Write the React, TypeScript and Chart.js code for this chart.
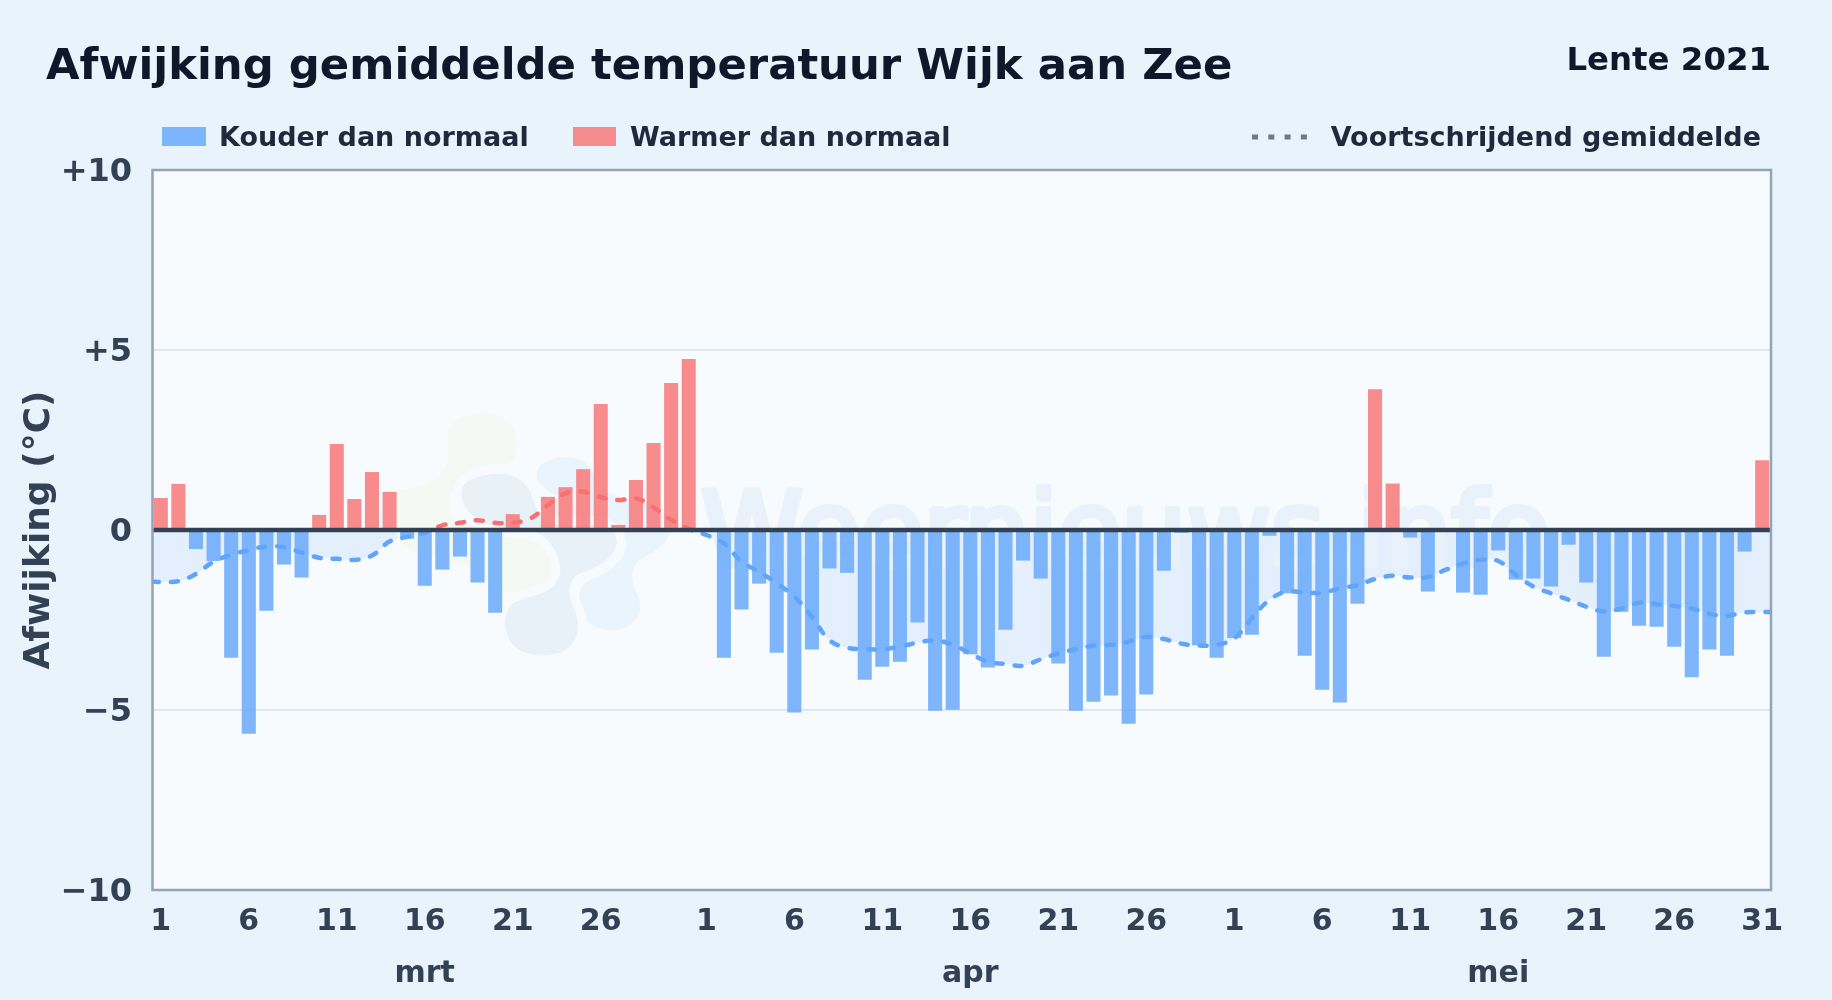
import React, { useEffect, useRef } from "react";
import { Chart, registerables } from "chart.js";

Chart.register(...registerables);

const titleText = "Afwijking gemiddelde temperatuur Wijk aan Zee";
const seasonText = "Lente 2021";
const yAxisTitle = "Afwijking (°C)";
const legendCold = "Kouder dan normaal";
const legendWarm = "Warmer dan normaal";
const legendAvg = "Voortschrijdend gemiddelde";
const watermarkText = "Weernieuws.info";

const monthNames = ["mrt", "apr", "mei"];
const monthLengths = [31, 30, 31];

const deviationMar = [0.89, 1.28, -0.53, -0.86, -3.55, -5.66, -2.24, -0.96, -1.32, 0.42, 2.39, 0.86, 1.61, 1.06, -0.24, -1.55, -1.1, -0.74, -1.46, -2.3, 0.44, 0, 0.92, 1.19, 1.69, 3.5, 0.14, 1.39, 2.42, 4.08, 4.75];
const deviationApr = [0, -3.55, -2.21, -1.49, -3.41, -5.07, -3.32, -1.07, -1.19, -4.16, -3.8, -3.66, -2.57, -5.02, -4.99, -3.45, -3.82, -2.77, -0.85, -1.35, -3.71, -5.02, -4.77, -4.6, -5.38, -4.57, -1.13, -0.08, -3.2, -3.55];
const deviationMay = [-3.0, -2.91, -0.16, -1.76, -3.49, -4.44, -4.79, -2.05, 3.91, 1.29, -0.21, -1.71, 0, -1.74, -1.8, -0.57, -1.38, -1.35, -1.57, -0.41, -1.46, -3.52, -2.27, -2.66, -2.69, -3.24, -4.09, -3.32, -3.49, -0.6, 1.94];

const averageMar = [-1.44, -1.42, -1.22, -0.88, -0.69, -0.56, -0.46, -0.48, -0.63, -0.77, -0.8, -0.83, -0.71, -0.32, -0.19, -0.07, 0.13, 0.2, 0.27, 0.2, 0.2, 0.32, 0.69, 1.02, 1.06, 0.91, 0.83, 0.88, 0.63, 0.28, 0.03];
const averageApr = [-0.14, -0.37, -0.88, -1.16, -1.48, -1.85, -2.41, -3.06, -3.27, -3.31, -3.31, -3.24, -3.13, -3.07, -3.19, -3.43, -3.66, -3.72, -3.77, -3.59, -3.43, -3.31, -3.21, -3.19, -3.1, -2.97, -3.03, -3.16, -3.21, -3.19];
const averageMay = [-3.01, -2.45, -1.94, -1.71, -1.74, -1.74, -1.62, -1.53, -1.36, -1.27, -1.32, -1.31, -1.11, -0.93, -0.83, -0.86, -1.25, -1.57, -1.76, -1.94, -2.13, -2.26, -2.18, -2.02, -2.06, -2.11, -2.18, -2.33, -2.38, -2.29, -2.28];

const yTickValues = [-10, -5, 0, 5, 10];
const yTickTexts = ["−10", "−5", "0", "+5", "+10"];

const FONT = '"DejaVu Sans"';
const BLUE = "rgba(96,165,250,0.8)";
const RED = "rgba(248,113,113,0.8)";
const PAGE_BG = "#e8f3fc";
const PLOT_BG = "#f7fbfe";

const allDeviation = [...deviationMar, ...deviationApr, ...deviationMay];
const allAverage = [...averageMar, ...averageApr, ...averageMay];
const coldValues = allDeviation.map((v) => (v < 0 ? v : null));
const warmValues = allDeviation.map((v) => (v > 0 ? v : null));

const dayLabels: string[] = [];
const tickTexts: (string | string[])[] = [];
monthLengths.forEach((len, m) => {
  for (let d = 1; d <= len; d++) {
    dayLabels.push(`${monthNames[m]} ${d}`);
    const showDay = (d - 1) % 5 === 0 && d < 31;
    const last = m === 2 && d === 31;
    if (d === 16) tickTexts.push(["16", monthNames[m]]);
    else tickTexts.push(showDay || last ? String(d) : "");
  }
});

// the average runs on to the edges of the plot: half a day beyond the first and last day
const averagePoints = [
  { x: -0.5, y: allAverage[0] },
  ...allAverage.map((y, i) => ({ x: i, y })),
  { x: allDeviation.length - 0.5, y: allAverage[allAverage.length - 1] },
];

// watermark logo outlines (decoration), bezier segments in a 3x grid around (380,400)
const logoGreen = [[205, 110], [205, 50, 270, 40, 320, 40], [380, 40, 415, 90, 412, 140], [410, 190, 370, 205, 320, 210], [250, 220, 220, 250, 208, 300], [200, 350, 230, 400, 370, 410], [440, 400, 520, 430, 520, 490], [520, 550, 470, 580, 420, 580], [330, 580, 300, 520, 260, 500], [170, 470, 60, 470, 50, 400], [45, 350, 45, 310, 50, 270], [120, 270, 190, 240, 205, 180]];
const logoLight = [[470, 230], [470, 190, 510, 172, 560, 172], [610, 172, 640, 200, 650, 250], [680, 300, 870, 310, 870, 390], [865, 440, 810, 460, 780, 480], [750, 500, 750, 540, 770, 580], [790, 620, 780, 660, 740, 680], [700, 700, 640, 690, 610, 650], [585, 620, 590, 570, 620, 545], [680, 520, 735, 490, 740, 430], [720, 340, 480, 300, 470, 230]];
const logoGrey = [[245, 280], [245, 235, 310, 222, 360, 222], [420, 222, 450, 260, 460, 300], [480, 370, 530, 385, 620, 375], [680, 370, 715, 400, 710, 430], [700, 480, 640, 510, 600, 520], [565, 535, 560, 580, 580, 620], [600, 670, 600, 700, 570, 740], [540, 770, 440, 780, 400, 735], [370, 700, 365, 640, 400, 610], [430, 590, 480, 590, 520, 560], [550, 530, 550, 480, 510, 430], [480, 390, 440, 390, 380, 385], [310, 380, 245, 340, 245, 280]];

function blob(ctx: CanvasRenderingContext2D, pts: number[][]) {
  const mx = (v: number) => 380 + v / 3;
  const my = (v: number) => 400 + v / 3;
  ctx.beginPath();
  ctx.moveTo(mx(pts[0][0]), my(pts[0][1]));
  for (let i = 1; i < pts.length; i++) {
    const p = pts[i];
    ctx.bezierCurveTo(mx(p[0]), my(p[1]), mx(p[2]), my(p[3]), mx(p[4]), my(p[5]));
  }
  ctx.closePath();
}

const backgroundPlugin = {
  id: "backdrop",
  beforeDatasetsDraw(chart: any) {
    const { ctx } = chart;
    ctx.save();
    ctx.fillStyle = "#f4f9f3";
    blob(ctx, logoGreen);
    ctx.fill();
    ctx.fillStyle = "#e9f4fd";
    blob(ctx, logoLight);
    ctx.fill();
    ctx.fillStyle = "#e8f0f8";
    ctx.strokeStyle = PLOT_BG;
    ctx.lineWidth = 18;
    ctx.lineJoin = "round";
    blob(ctx, logoGrey);
    ctx.stroke();
    ctx.fill();
    // watermark text
    ctx.font = `103px ${FONT}`;
    ctx.textAlign = "left";
    ctx.textBaseline = "alphabetic";
    ctx.fillStyle = "#e9f2fa";
    ctx.strokeStyle = "#e9f2fa";
    ctx.lineWidth = 6;
    ctx.fillText(watermarkText, 701, 566);
    ctx.strokeText(watermarkText, 701, 566);
    ctx.restore();
  },
};

const framePlugin = {
  id: "frame",
  beforeDraw(chart: any) {
    const { ctx, chartArea: a } = chart;
    ctx.save();
    ctx.fillStyle = PLOT_BG;
    ctx.fillRect(a.left, a.top, a.right - a.left, a.bottom - a.top);
    ctx.restore();
  },
  afterDatasetsDraw(chart: any) {
    const { ctx, chartArea: a, scales } = chart;
    ctx.save();
    const y0 = scales.y.getPixelForValue(0);
    ctx.strokeStyle = "#334155";
    ctx.lineWidth = 4.5;
    ctx.beginPath();
    ctx.moveTo(a.left, y0);
    ctx.lineTo(a.right, y0);
    ctx.stroke();
    ctx.strokeStyle = "#94a3b8";
    ctx.lineWidth = 2.5;
    ctx.strokeRect(a.left + 0.5, a.top, a.right - a.left - 0.5, a.bottom - a.top);
    ctx.restore();
  },
  afterDraw(chart: any) {
    const { ctx } = chart;
    ctx.save();
    ctx.textBaseline = "alphabetic";
    ctx.textAlign = "left";
    ctx.fillStyle = "#0f172a";
    ctx.font = `bold 43.35px ${FONT}`;
    ctx.fillText(titleText, 46, 79);
    ctx.textAlign = "right";
    ctx.font = `bold 32.4px ${FONT}`;
    ctx.fillText(seasonText, 1771, 70);

    ctx.textAlign = "left";
    ctx.font = `bold 27px ${FONT}`;
    ctx.fillStyle = BLUE;
    ctx.fillRect(162, 127, 44, 19);
    ctx.fillStyle = RED;
    ctx.fillRect(573, 127, 43, 19);
    ctx.fillStyle = "#1e293b";
    ctx.fillText(legendCold, 219, 146);
    ctx.fillText(legendWarm, 630, 146);
    ctx.textAlign = "right";
    ctx.fillText(legendAvg, 1761, 146);

    ctx.strokeStyle = "#6b7a8f";
    ctx.lineWidth = 5;
    ctx.setLineDash([6, 10.3]);
    ctx.beginPath();
    ctx.moveTo(1252, 137);
    ctx.lineTo(1307, 137);
    ctx.stroke();
    ctx.restore();
  },
};

export default function App() {
  const ref = useRef<HTMLCanvasElement | null>(null);

  useEffect(() => {
    document.body.style.margin = "0";
    document.body.style.background = PAGE_BG;
    const chart = new Chart(ref.current as HTMLCanvasElement, {
      type: "bar",
      plugins: [backgroundPlugin, framePlugin],
      data: {
        labels: dayLabels,
        datasets: [
          {
            type: "line",
            label: legendAvg,
            xAxisID: "xLine",
            data: averagePoints,
            order: 0,
            tension: 0.4,
            pointRadius: 0,
            borderWidth: 4.5,
            borderDash: [7, 12],
            borderCapStyle: "round",
            borderColor: (c: any) => {
              const { chart: ch } = c;
              if (!ch.chartArea) return "#60a5fa";
              const a = ch.chartArea;
              const g = ch.ctx.createLinearGradient(0, a.top, 0, a.bottom);
              const f = (ch.scales.y.getPixelForValue(0) - a.top) / (a.bottom - a.top);
              g.addColorStop(0, "#f87171");
              g.addColorStop(f, "#f87171");
              g.addColorStop(f, "#60a5fa");
              g.addColorStop(1, "#60a5fa");
              return g;
            },
            fill: {
              target: { value: 0 },
              above: "rgba(248,113,113,0.08)",
              below: "rgba(96,165,250,0.13)",
            },
          } as any,
          {
            type: "bar",
            label: legendCold,
            data: coldValues,
            order: 1,
            backgroundColor: BLUE,
            grouped: false,
            barPercentage: 0.8,
            categoryPercentage: 1,
          } as any,
          {
            type: "bar",
            label: legendWarm,
            data: warmValues,
            order: 1,
            backgroundColor: RED,
            grouped: false,
            barPercentage: 0.8,
            categoryPercentage: 1,
          } as any,
        ],
      },
      options: {
        responsive: false,
        animation: false,
        events: [],
        layout: { autoPadding: false, padding: { top: 170, right: 61, bottom: 0, left: 0 } },
        plugins: {
          legend: { display: false },
          title: { display: false },
          tooltip: { enabled: false },
          filler: { drawTime: "beforeDatasetsDraw" },
        } as any,
        scales: {
          x: {
            type: "category",
            offset: true,
            grid: { display: false, drawTicks: false },
            border: { display: false },
            afterFit: (s: any) => {
              s.height = 110;
            },
            ticks: {
              autoSkip: false,
              maxRotation: 0,
              minRotation: 0,
              padding: 6,
              color: "#334155",
              font: { family: FONT, weight: "bold", size: 30, lineHeight: 52 / 30 },
              callback: (_: any, i: number) => tickTexts[i],
            },
          },
          xLine: {
            type: "linear",
            display: false,
            offset: false,
            min: -0.5,
            max: allDeviation.length - 0.5,
          },
          y: {
            min: -10,
            max: 10,
            afterFit: (s: any) => {
              s.width = 152;
            },
            afterBuildTicks: (s: any) => {
              s.ticks = yTickValues.map((value) => ({ value }));
            },
            grid: {
              drawTicks: false,
              color: "#e0e7ec",
              lineWidth: 2,
            },
            border: { display: false },
            title: {
              display: true,
              text: yAxisTitle,
              color: "#334155",
              padding: { top: 18, bottom: 0 },
              font: { family: FONT, weight: "bold", size: 36 },
            },
            ticks: {
              padding: 20,
              labelOffset: 3,
              color: "#334155",
              font: { family: FONT, weight: "bold", size: 32 },
              callback: (v: any) => yTickTexts[yTickValues.indexOf(Number(v))],
            },
          },
        },
      },
    } as any);
    return () => chart.destroy();
  }, []);

  return (
    <div style={{ width: 1832, height: 1000, background: PAGE_BG }}>
      <canvas ref={ref} width={1832} height={1000} style={{ display: "block" }} />
    </div>
  );
}
